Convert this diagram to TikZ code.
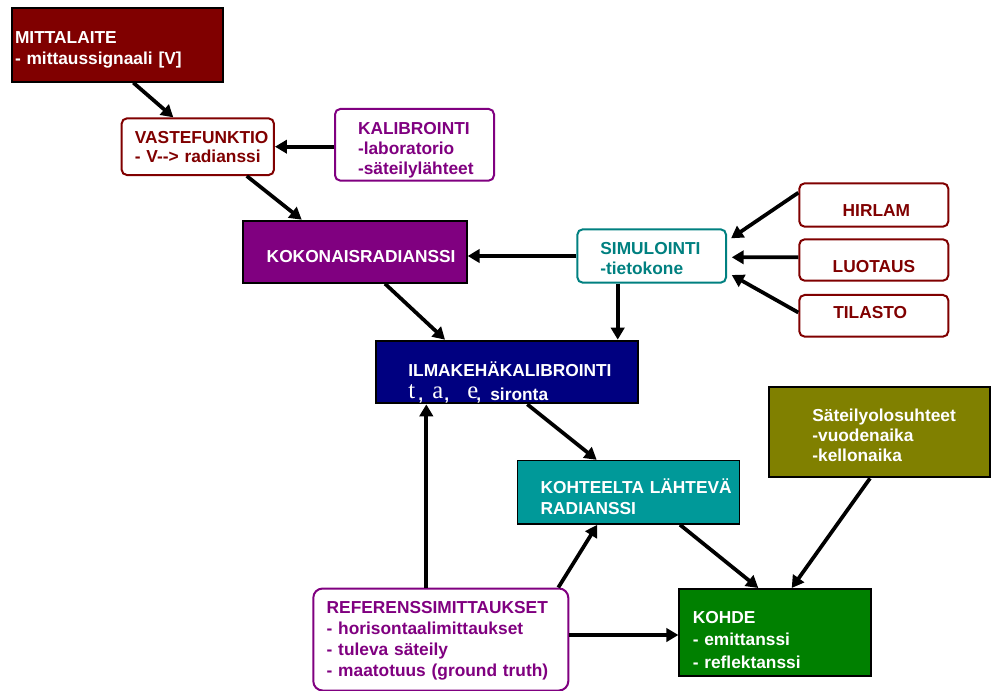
\documentclass[tikz,border=0pt]{standalone}
\usepackage{fontspec}
\setmainfont{Liberation Sans}
\newfontfamily\serifA{Liberation Serif}
\usetikzlibrary{calc,arrows.meta}
\newdimen\pxu \pxu=0.75pt
\newcommand\Lsk[1]{\leftskip=#1\pxu\relax}
\newcommand\Sg[1]{\leavevmode\rlap{\raisebox{2pt}{\serifA\mdseries\fontsize{18.5}{18}\selectfont #1}}}
\definecolor{dred}{HTML}{800000}
\definecolor{purp}{HTML}{800080}
\definecolor{tealc}{HTML}{008080}
\definecolor{navyc}{HTML}{000080}
\definecolor{tealf}{HTML}{009999}
\definecolor{olivec}{HTML}{808000}
\definecolor{greenc}{HTML}{008000}
\begin{document}
\begin{tikzpicture}[x=0.75pt,y=-0.75pt,
  bs/.style={font=\bfseries\fontsize{13}{#1}\selectfont},
  box/.style={inner xsep=0pt,inner ysep=0pt,align=left,bs=15.5pt},
  fbox/.style={box,draw=black,line width=1.5pt,text=white},
  rbox/.style={box,fill=white,line width=1.5pt,rounded corners=4pt},
  sz/.style n args={4}{minimum width=#1,text width=#1,minimum height=#2,text height=#3,text depth=#4},
  arr/.style={line width=2.8pt,-{Triangle[length=9pt,width=10pt]}}]
\useasboundingbox (0,0) rectangle (991,691);

\node[fbox,fill=dred,sz={158.25pt}{55pt}{26.25pt}{28.75pt},bs=16.25pt] (mitta) at (117.2,45)
  {\Lsk{3.3}MITTALAITE\\- mittaussignaali [V]\par};
\node[rbox,draw=dred,text=dred,sz={114.25pt}{42.5pt}{18.5pt}{24pt},bs=14.5pt] (vaste) at (197.8,146.7)
  {\Lsk{13.3}VASTEFUNKTIO\\- V-\kern0pt-> radianssi\par};
\node[rbox,draw=purp,text=purp,sz={119.25pt}{53.75pt}{19.5pt}{34.25pt},bs=14.75pt] (kalib) at (414.5,144.8)
  {\Lsk{23}KALIBROINTI\\-laboratorio\\-säteilylähteet\par};
\node[fbox,fill=purp,sz={167.5pt}{46.5pt}{31.5pt}{15pt}] (koko) at (355,251.7)
  {\Lsk{23.4}KOKONAISRADIANSSI\par};
\node[rbox,draw=tealc,text=tealc,sz={111.5pt}{40pt}{19.25pt}{20.75pt},bs=14.5pt] (simu) at (651.7,256)
  {\Lsk{23}SIMULOINTI\\-tietokone\par};
\node[rbox,draw=dred,text=dred,sz={111.75pt}{32.5pt}{25.25pt}{7.25pt}] (hirlam) at (873.8,205)
  {\Lsk{43.4}HIRLAM\par};
\node[rbox,draw=dred,text=dred,sz={111.75pt}{31pt}{25.25pt}{5.75pt}] (luotaus) at (873.8,260)
  {\Lsk{33.4}LUOTAUS\par};
\node[rbox,draw=dred,text=dred,sz={111.75pt}{31.25pt}{18pt}{13.25pt}] (tilasto) at (873.8,315.8)
  {\Lsk{34}TILASTO\par};
\node[fbox,fill=navyc,sz={197pt}{47pt}{26.5pt}{20.5pt},bs=18.5pt] (ilma) at (507,372)
  {\Lsk{32.7}ILMAKEHÄKALIBROINTI\\ \Sg{t}\hspace{10\pxu}\rlap{,}\hspace{14\pxu}\Sg{a}\hspace{12\pxu}\rlap{,}\hspace{23\pxu}\Sg{e}\hspace{9\pxu}\rlap{,}\hspace{14\pxu}sironta\par};
\node[fbox,fill=tealf,line width=1.2pt,sz={166.5pt}{47.5pt}{24.5pt}{23pt},bs=16.25pt] (koht) at (628.3,492.3)
  {\Lsk{23.4}KOHTEELTA LÄHTEVÄ\\RADIANSSI\par};
\node[fbox,fill=olivec,sz={165.5pt}{68pt}{26.25pt}{41.75pt},bs=15pt] (sat) at (879.7,432)
  {\Lsk{43}Säteilyolosuhteet\\-vuodenaika\\-kellonaika\par};
\node[fbox,fill=greenc,sz={143.75pt}{65.25pt}{25.75pt}{39.5pt},bs=16.9pt] (kohde) at (775.2,632.5)
  {\Lsk{13.4}KOHDE\\- emittanssi\\- reflektanssi\par};
\node[rbox,draw=purp,text=purp,rounded corners=7pt,sz={191.25pt}{76.5pt}{18.75pt}{57.75pt},bs=15.75pt] (ref) at (440.8,639.5)
  {\Lsk{13.4}REFERENSSIMITTAUKSET\\- horisontaalimittaukset\\- tuleva säteily\\- maatotuus (ground truth)\par};

\draw[arr] ($(mitta.south)+(16.1,0)$) -- ($(vaste.north)+(-24.5,0)$);
\draw[arr] (kalib.west |- vaste.east) -- (vaste.east);
\draw[arr] ($(vaste.south)+(49,0)$) -- ($(koko.north)+(-53.3,0)$);
\draw[arr] (simu.west) -- (simu.west -| koko.east);
\draw[arr] ($(simu.south)+(-34,0)$) coordinate (s1) -- (s1 |- ilma.north);
\draw[arr] ($(hirlam.west)+(0,-12.3)$) -- ($(simu.east)+(4,-17.7)$);
\draw[arr] ($(luotaus.west)+(0,-2.7)$) -- ($(simu.east)+(4.7,1.3)$);
\draw[arr] ($(tilasto.west)+(0,-3.3)$) -- ($(simu.east)+(4.7,19)$);
\draw[arr] ($(koko.south)+(30,0)$) -- ($(ilma.north)+(-62,0)$);
\draw[arr] ($(ilma.south)+(20.3,0)$) -- ($(koht.north)+(-31.6,0)$);
\draw[arr] ($(ref.north)+(-14.5,0)$) coordinate (r1) -- (r1 |- ilma.south);
\draw[arr] ($(ref.north)+(117.5,0)$) -- ($(koht.south)+(-31,0)$);
\draw[arr] ($(ref.east)+(0,-4.5)$) -- ($(kohde.west)+(0,2.5)$);
\draw[arr] ($(koht.south)+(51.7,0)$) -- ($(kohde.north)+(-16.9,0)$);
\draw[arr] ($(sat.south)+(-9.7,0)$) -- ($(kohde.north)+(16.5,0)$);
\end{tikzpicture}
\end{document}
